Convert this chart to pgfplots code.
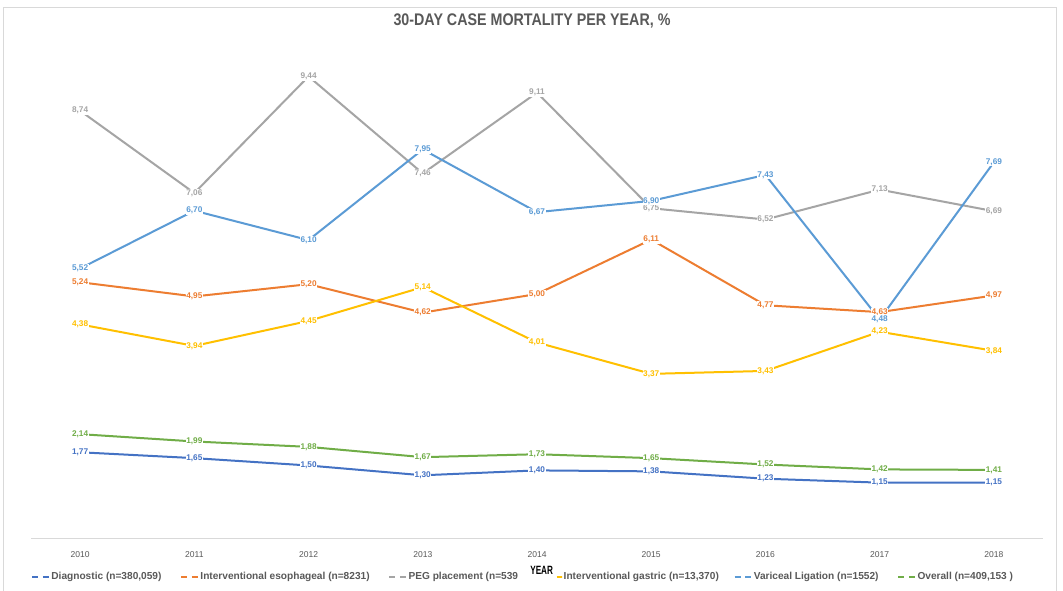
\documentclass[border=0pt]{standalone}
\usepackage{fontspec}
\setmainfont{Liberation Sans}
\newfontfamily\titlefont{Liberation Sans}[FakeStretch=0.85]
\newfontfamily\narrowfont{Liberation Sans}[FakeStretch=0.68]
\usepackage{pgfplots}
\usepackage{pgfplotstable}
\pgfplotsset{compat=1.18}

\definecolor{cDiag}{HTML}{4472C4}
\definecolor{cEso}{HTML}{ED7D31}
\definecolor{cPEG}{HTML}{A5A5A5}
\definecolor{cGas}{HTML}{FFC000}
\definecolor{cVar}{HTML}{5B9BD5}
\definecolor{cAll}{HTML}{70AD47}
\definecolor{txt}{HTML}{595959}
\definecolor{frame}{HTML}{D9D9D9}

% 30-day case mortality (%) by year, one column per procedure group
\pgfplotstableread{
x diag eso peg gas var all
0 1.77 5.24 8.74 4.38 5.52 2.14
1 1.65 4.95 7.06 3.94 6.70 1.99
2 1.50 5.20 9.44 4.45 6.10 1.88
3 1.30 4.62 7.46 5.14 7.95 1.67
4 1.40 5.00 9.11 4.01 6.67 1.73
5 1.38 6.11 6.75 3.37 6.90 1.65
6 1.23 4.77 6.52 3.43 7.43 1.52
7 1.15 4.63 7.13 4.23 4.48 1.42
8 1.15 4.97 6.69 3.84 7.69 1.41
}\mortality

\pgfplotsset{
  series/.style={line width=1.5pt, color=#1,
    legend image code/.code={\draw[line width=1.5pt, dash pattern=on 4.5pt off 3.5pt] (0pt,0pt) -- (13pt,0pt);}},
  seriesone/.style={line width=1.5pt, color=#1,
    legend image code/.code={\draw[line width=1.5pt, dash pattern=on 0pt off 9pt on 4pt] (0pt,0pt) -- (13pt,0pt);}},
  labels/.style={draw=none, forget plot,
    nodes near coords={\pgfmathprintnumber[fixed,fixed zerofill,precision=2,use comma]{\pgfplotspointmeta}},
    every node near coord/.append style={anchor=center, fill=white, inner sep=0.5pt,
      font=\bfseries\fontsize{6.2}{7}\selectfont, text=#1}},
}

\begin{document}
\begin{tikzpicture}
\useasboundingbox (0,0) rectangle (797.25pt,443.25pt);
\fill[white] (0,0) rectangle (797.25pt,443.25pt);
\draw[frame, line width=0.6pt] (2.25pt,0pt) -- (2.25pt,438pt) -- (792pt,438pt) -- (792pt,0pt);
\node[font=\titlefont\bfseries\fontsize{12.6}{14}\selectfont, text=txt] at (399pt,427.5pt)
  {30-DAY CASE MORTALITY PER YEAR, \%};
\begin{axis}[
  at={(23.25pt,39pt)}, anchor=south west,
  scale only axis, width=759pt, height=367.5pt,
  xmin=-0.43, xmax=8.43, ymin=0, ymax=10,
  axis x line*=bottom, axis y line=none,
  x axis line style={draw=frame, line width=0.75pt, -},
  major tick length=0pt,
  xtick={0,1,2,3,4,5,6,7,8},
  xticklabels={2010,2011,2012,2013,2014,2015,2016,2017,2018},
  xticklabel style={font=\fontsize{6.4}{7}\selectfont, text=txt, anchor=center, yshift=-11.5pt},
  /pgf/number format/assume math mode=true,
  xlabel={YEAR},
  xlabel style={at={(axis description cs:0.5046,-0.0635)}, anchor=center,
    font=\narrowfont\bfseries\fontsize{9}{10}\selectfont, text=black},
  legend columns=6,
  legend cell align=left,
  legend style={at={(axis description cs:0,-0.0776)}, anchor=west, draw=none, fill=none,
    font=\bfseries\fontsize{7.6}{9}\selectfont, text=txt, inner sep=0pt,
    nodes={inner sep=0.6pt},
    /tikz/every odd column/.append style={column sep=0pt},
    /tikz/every even column/.append style={column sep=13.5pt}},
  clip=false,
]
\addplot[series=cDiag] table[x=x,y=diag] {\mortality};
\addlegendentry{Diagnostic (n=380,059)}
\addplot[series=cEso] table[x=x,y=eso] {\mortality};
\addlegendentry{Interventional esophageal (n=8231)}
\addplot[series=cPEG] table[x=x,y=peg] {\mortality};
\addlegendentry{PEG placement (n=539\hspace*{5pt}}
\addplot[seriesone=cGas] table[x=x,y=gas] {\mortality};
\addlegendentry{Interventional gastric (n=13,370)\hspace*{-3pt}}
\addplot[series=cVar] table[x=x,y=var] {\mortality};
\addlegendentry{Variceal Ligation (n=1552)}
\addplot[series=cAll] table[x=x,y=all] {\mortality};
\addlegendentry{Overall (n=409,153 )}

\addplot[labels=cDiag] table[x=x,y=diag] {\mortality};
\addplot[labels=cEso] table[x=x,y=eso] {\mortality};
\addplot[labels=cPEG] table[x=x,y=peg] {\mortality};
\addplot[labels=cGas] table[x=x,y=gas] {\mortality};
\addplot[labels=cVar] table[x=x,y=var] {\mortality};
\addplot[labels=cAll] table[x=x,y=all] {\mortality};
\end{axis}
\end{tikzpicture}
\end{document}
